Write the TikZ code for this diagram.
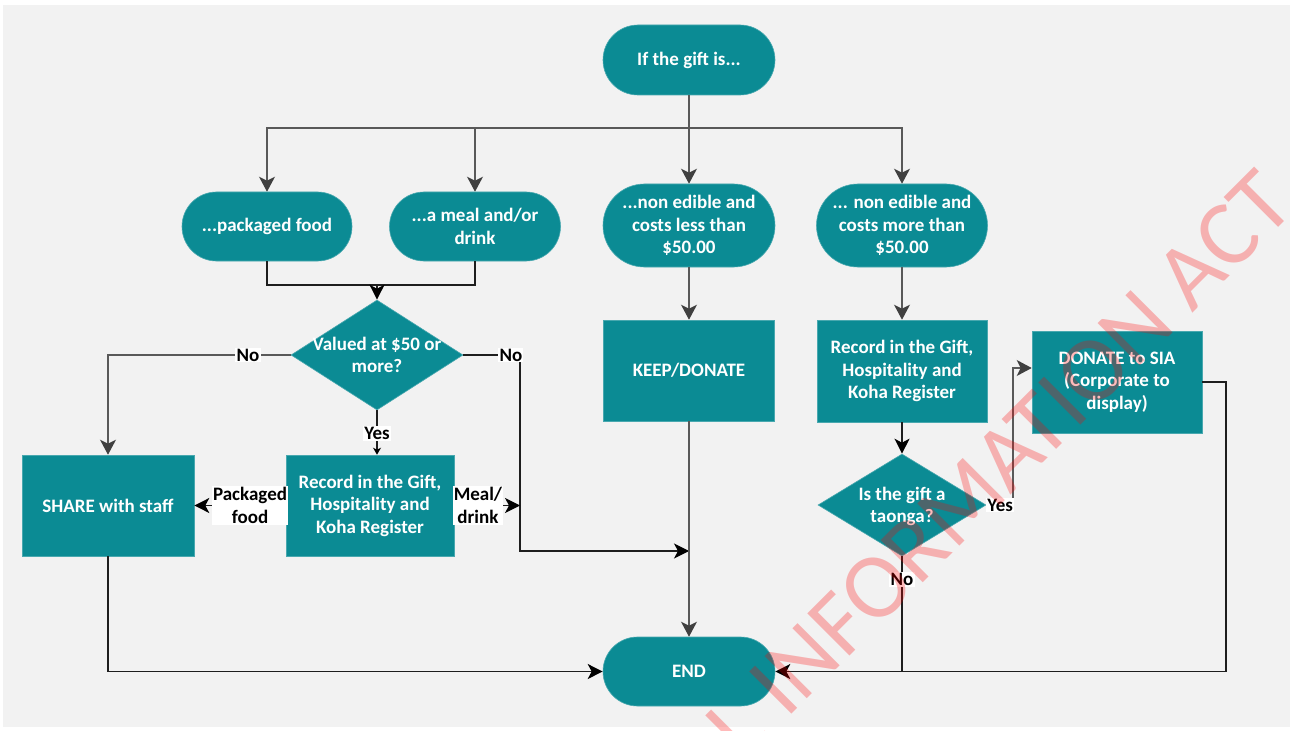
\documentclass[tikz,border=0pt]{standalone}
\usepackage{fontspec}
\setmainfont{Carlito}
\usetikzlibrary{shapes.geometric,arrows.meta}
\definecolor{teal0}{RGB}{11,139,148}
\definecolor{bgc}{RGB}{242,242,242}
\definecolor{lng}{RGB}{89,89,89}
\definecolor{ahg}{RGB}{64,64,64}
\definecolor{lnb}{RGB}{30,30,30}
\newcommand\zb[1]{\makebox[0pt]{\smash{\raisebox{-7bp}{\begin{tabular}{@{}c@{}}#1\end{tabular}}}}}
\begin{document}
\begin{tikzpicture}[x=1bp,y=-1bp,
  font=\fontsize{19bp}{22.5bp}\selectfont\bfseries,
  term/.style={fill=teal0, draw=teal0!75!white, line width=0.6bp, text=white, align=center, inner sep=0pt},
  stad/.style={term, rounded corners=#1},
  box/.style={term},
  dia/.style={term, diamond},
  lab/.style={fill=white, text=black, inner sep=1.2bp, align=center},
  lg/.style={draw=lng, line width=1.2bp},
  lb/.style={draw=lnb, line width=1.2bp},
  ag/.style={lg, -{Stealth[length=15bp,width=16bp,inset=4bp,color=ahg]}},
  ab/.style={lb, -{Stealth[length=15bp,width=15bp,inset=4bp,color=black]}},
  abs/.style={lb, -{Stealth[length=7bp,width=8bp,inset=2bp,color=black]}}
]
\fill[white] (0,0) rectangle (1290,731);
\fill[bgc] (3,5) rectangle (1290,727);
\useasboundingbox (0,0) rectangle (1290,731);

% nodes
\node[stad=35bp, minimum width=172bp, minimum height=70bp] (start) at (689,60) {If the gift is...};
\node[stad=34.5bp, minimum width=170bp, minimum height=69bp] (pack) at (267,226.5) {...packaged food};
\node[stad=34.5bp, minimum width=171bp, minimum height=69bp] (meal) at (475,226.5) {...a meal and/or\\drink};
\node[stad=41.5bp, minimum width=172bp, minimum height=83bp] (nel) at (689,225.5) {...non edible and\\costs less than\\\$50.00};
\node[stad=41.5bp, minimum width=171bp, minimum height=83bp] (nem) at (902,225.5) {... non edible and\\costs more than\\\$50.00};
\node[dia, minimum width=172bp, minimum height=110bp] (val) at (377,355) {\zb{Valued at \$50 or\\more?}};
\node[box, minimum width=172bp, minimum height=101bp] (share) at (108,505.5) {SHARE with staff};
\node[box, minimum width=168bp, minimum height=101bp] (rec1) at (370,505.5) {Record in the Gift,\\Hospitality and\\Koha Register};
\node[box, minimum width=171bp, minimum height=101bp] (keep) at (689,370.5) {KEEP/DONATE};
\node[box, minimum width=170bp, minimum height=102bp] (rec2) at (902,371) {Record in the Gift,\\Hospitality and\\Koha Register};
\node[dia, minimum width=168bp, minimum height=102bp] (tao) at (902,505) {\zb{Is the gift a\\taonga?}};
\node[box, minimum width=170bp, minimum height=102bp] (donate) at (1117,382) {DONATE to SIA\\(Corporate to\\display)};
\node[stad=34.5bp, minimum width=172bp, minimum height=69bp] (end) at (689,671.5) {END};

% connectors
\coordinate (split) at (689,128);
\draw[ag] (start.south) -- (nel.north);
\draw[ag] (split) -| (pack.north);
\draw[ag] (split) -| (meal.north);
\draw[ag] (split) -| (nem.north);

\coordinate (merge) at (377,285);
\draw[lb] (pack.south) |- (merge) -| (meal.south);
\draw[ab] (merge) -- (val.north);

\draw[ag] (val.west) -| node[lab, pos=0.117]{No} (share.north);
\coordinate (nr) at (520,355);
\coordinate (join) at (689,551);
\draw[ab] (val.east) -- node[lab, pos=0.84]{No} (nr) |- (join);
\draw[abs] (val.south) -- node[lab, pos=0.53]{Yes} (val.south |- rec1.north);
\draw[ab] (rec1.west) -- node[lab, pos=0.39]{Packaged\\food} (share.east);
\draw[ab] (rec1.east) -- node[lab, pos=0.36]{Meal/\\drink} (rec1.east -| nr);

\draw[ag] (nel.south) -- (keep.north);
\draw[ag] (keep.south) -- (end.north);
\draw[ag] (nem.south) -- (rec2.north);
\draw[ab] (rec2.south) -- (tao.north);

\coordinate (ty) at (1013,368);
\draw[ag] (tao.east) -| node[lab, pos=0.26]{Yes} (ty) -- (ty -| donate.west);
\coordinate (dr) at (1226,382);
\draw[ab] (donate.east) -- (dr) |- (end.east);
\draw[lb] (tao.south) -- node[lab, pos=0.2]{No} (tao.south |- end.east);
\draw[ab] (share.south) |- (end.west);

% watermark
\begin{scope}
\clip (0,0) rectangle (1290,731);
\node[rotate=45, anchor=base east, text=red, text opacity=0.27, font=\fontsize{93bp}{93bp}\selectfont\mdseries, inner sep=0pt] (wm) at (1298,208) {L INFORMATION ACT};
\end{scope}
\end{tikzpicture}
\end{document}
